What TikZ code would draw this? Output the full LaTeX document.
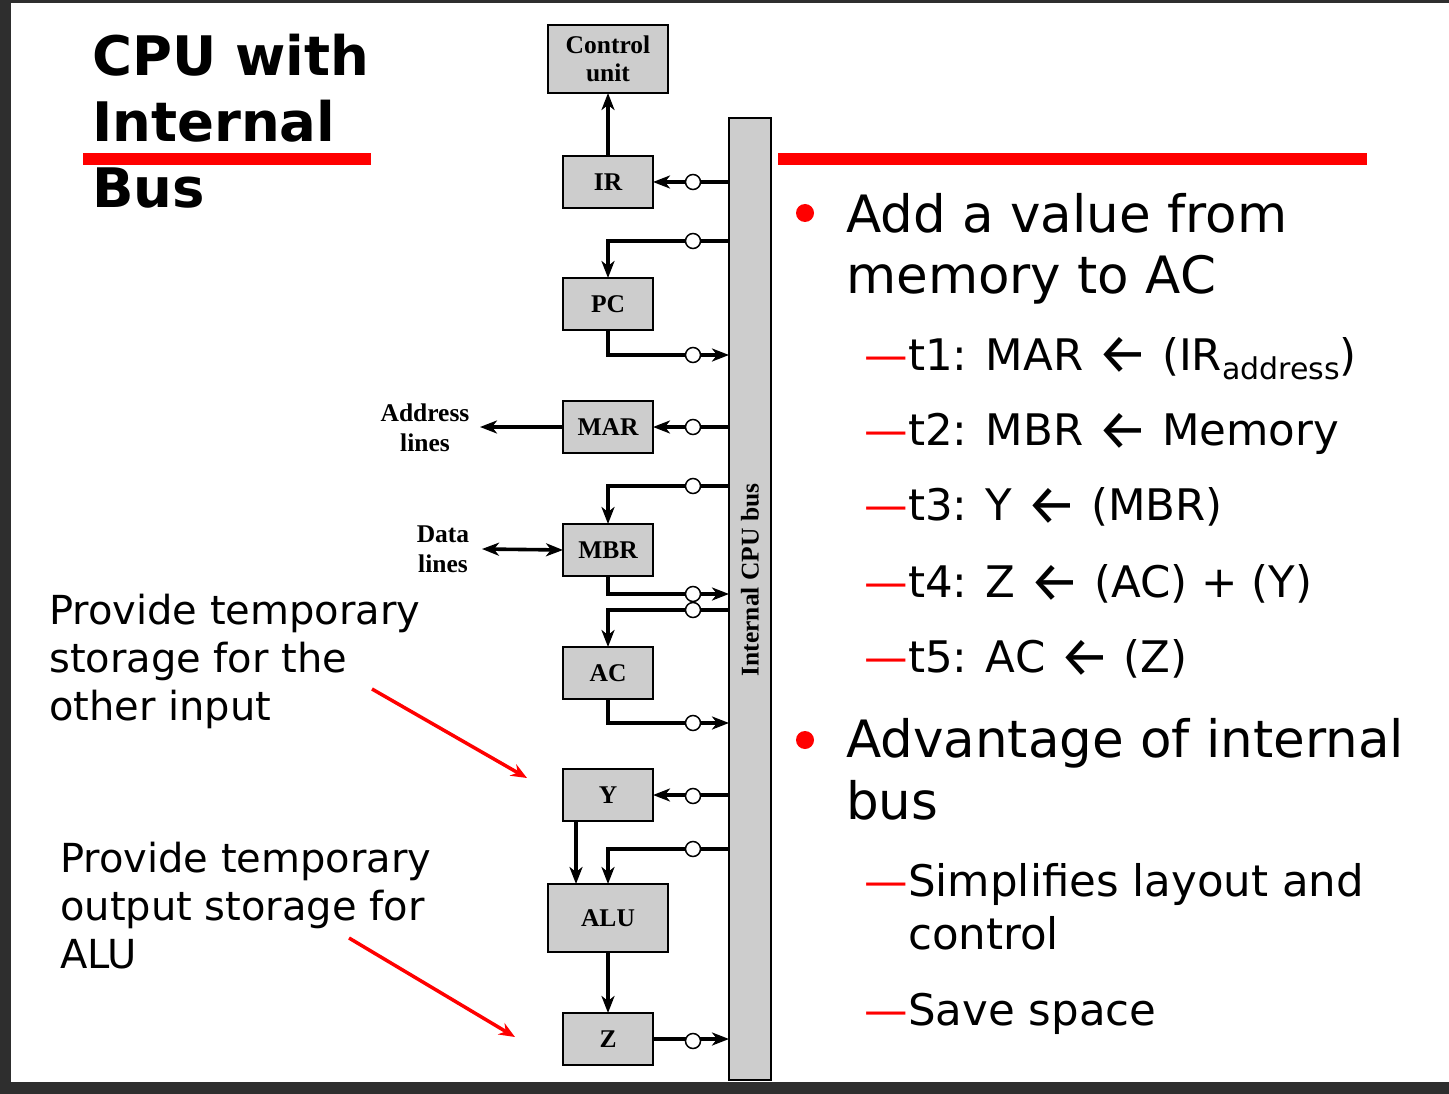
\documentclass[tikz,border=0pt]{standalone}
\usepackage{fontspec}
\setmainfont{DejaVu Sans}
\newfontfamily\diagfont{Liberation Serif}
\newfontfamily\arrowfont{Fira Sans}
\usetikzlibrary{arrows.meta}
\definecolor{boxgray}{RGB}{205,205,205}
\definecolor{framegray}{RGB}{46,46,46}
\newcommand{\larr}{\raisebox{-4pt}{\scalebox{1.3}{\arrowfont ←}}}
\begin{document}
\begin{tikzpicture}[x=1pt,y=-1pt,
  box/.style={draw=black, line width=1.8pt, fill=boxgray, inner sep=0pt, outer sep=0pt,
    font=\diagfont\bfseries\fontsize{25.5}{28}\selectfont, align=center},
  reg/.style={box, minimum width=90pt, minimum height=52pt},
  bigreg/.style={box, minimum width=120pt, minimum height=68pt},
  busbar/.style={draw=black, line width=1.4pt, fill=boxgray, inner sep=0pt, outer sep=0pt,
    minimum width=42pt, minimum height=962pt},
  conn/.style={line width=3.6pt},
  arr/.style={conn, -{Stealth[length=17pt,width=13pt,inset=5pt]}},
  darr/.style={conn, {Stealth[length=17pt,width=13pt,inset=5pt]}-{Stealth[length=17pt,width=13pt,inset=5pt]}},
  tap/.style={circle, draw=black, line width=1.5pt, fill=white, minimum size=15pt, inner sep=0pt},
  lbl/.style={font=\diagfont\bfseries\fontsize{25.5}{30}\selectfont, align=center, inner sep=0pt},
  note/.style={anchor=base west, align=left, inner sep=0pt, font=\fontsize{40}{48}\selectfont},
  mainpt/.style={anchor=base west, align=left, inner sep=0pt, font=\fontsize{51.5}{62}\selectfont},
  subpt/.style={anchor=base west, align=left, inner sep=0pt, font=\fontsize{43.5}{53}\selectfont},
  dot/.style={circle, fill=red, minimum size=18pt, inner sep=0pt},
  redarr/.style={draw=red, line width=3.5pt, -{Stealth[length=16pt,width=13pt]}}
]
\useasboundingbox (0,0) rectangle (1449,1094);
\fill[framegray] (0,0) rectangle (1449,1094);
\fill[white] (11,3) rectangle (1449,1082);

% title (anchor on the last line's baseline)
\node[anchor=base west, align=left, inner sep=0pt, font=\bfseries\fontsize{54.5}{66.5}\selectfont] (title) at (92,208) {CPU with\\Internal\\Bus};
\fill[red] (83,153) rectangle (371,165);
\fill[red] (778,153) rectangle (1367,165);

% bus
\node[busbar] (bus) at (750,599) {};
\node[rotate=90, font=\diagfont\bfseries\fontsize{25.5}{28}\selectfont, inner sep=0pt] (buslabel) at (750,580) {Internal CPU bus};

% registers
\node[bigreg] (cu) at (608,59) {Control\\unit};
\node[reg] (ir) at (608,182) {IR};
\node[reg] (pc) at (608,304) {PC};
\node[reg] (mar) at (608,427) {MAR};
\node[reg] (mbr) at (608,550) {MBR};
\node[reg] (ac) at (608,673) {AC};
\node[reg] (yr) at (608,795) {Y};
\node[bigreg] (alu) at (608,918) {ALU};
\node[reg] (zr) at (608,1039) {Z};

% external lines
\node[lbl] (addr) at (425,428) {Address\\lines};
\node[lbl] (data) at (443,549) {Data\\lines};
\coordinate (addrEnd) at (480,427);
\coordinate (dataEnd) at (482,549);

% bus taps
\coordinate (bIR) at (bus.west |- ir.east);
\coordinate (bPCin) at (729,241);
\coordinate (bPCout) at (729,355);
\coordinate (bMAR) at (bus.west |- mar.east);
\coordinate (bMBRin) at (729,486);
\coordinate (bMBRout) at (729,594);
\coordinate (bACin) at (729,610);
\coordinate (bACout) at (729,723);
\coordinate (bY) at (bus.west |- yr.east);
\coordinate (bALUin) at (729,849);
\coordinate (bZ) at (bus.west |- zr.east);

% connectors
\draw[arr] (ir.north) -- (cu.south);
\draw[arr] (bIR) -- (ir.east);
\draw[arr] (bPCin) -| (pc.north);
\draw[arr] (pc.south) |- (bPCout);
\draw[arr] (bMAR) -- (mar.east);
\draw[arr] (mar.west) -- (addrEnd);
\draw[darr] (dataEnd) -- (mbr.west);
\draw[arr] (bMBRin) -| (mbr.north);
\draw[arr] (mbr.south) |- (bMBRout);
\draw[arr] (bACin) -| (ac.north);
\draw[arr] (ac.south) |- (bACout);
\draw[arr] (bY) -- (yr.east);
\draw[arr] ([xshift=-32pt]yr.south) -- ([xshift=-32pt]alu.north);
\draw[arr] (bALUin) -| (alu.north);
\draw[arr] (alu.south) -- (zr.north);
\draw[arr] (zr.east) -- (bZ);

% tap circles
\node[tap] (cIR) at (693,182) {};
\node[tap] (cPCin) at (693,241) {};
\node[tap] (cPCout) at (693,355) {};
\node[tap] (cMAR) at (693,427) {};
\node[tap] (cMBRin) at (693,486) {};
\node[tap] (cMBRout) at (693,594) {};
\node[tap] (cACin) at (693,610) {};
\node[tap] (cACout) at (693,723) {};
\node[tap] (cY) at (693,796) {};
\node[tap] (cALUin) at (693,849) {};
\node[tap] (cZ) at (693,1041) {};

% annotations (anchored on the last line's baseline)
\node[note] (n1) at (49,720) {Provide temporary\\storage for the\\other input};
\node[note] (n2) at (60,968) {Provide temporary\\output storage for\\ALU};
\coordinate (n1s) at (372,689);
\coordinate (n1e) at (527,778);
\coordinate (n2s) at (349,938);
\coordinate (n2e) at (515,1037);
\draw[redarr] (n1s) -- (n1e);
\draw[redarr] (n2s) -- (n2e);

% right text
\node[dot] (b1) at (805,213) {};
\node[mainpt] (m1) at (846,294) {Add a value from\\memory to AC};
\node[subpt] (s1) at (908,370) {\llap{\textcolor{red}{—}}t1: MAR \larr{} (IR{\fontsize{30}{30}\selectfont\raisebox{-9pt}{address}})};
\node[subpt] (s2) at (908,445) {\llap{\textcolor{red}{—}}t2: MBR \larr{} Memory};
\node[subpt] (s3) at (908,520) {\llap{\textcolor{red}{—}}t3: Y \larr{} (MBR)};
\node[subpt] (s4) at (908,597) {\llap{\textcolor{red}{—}}t4: Z \larr{} (AC) + (Y)};
\node[subpt] (s5) at (908,672) {\llap{\textcolor{red}{—}}t5: AC \larr{} (Z)};
\node[dot] (b2) at (805,740) {};
\node[mainpt] (m2) at (846,819) {Advantage of internal\\bus};
\node[subpt] (s6) at (908,949) {\llap{\textcolor{red}{—}}Simplifies layout and\\control};
\node[subpt] (s7) at (908,1025) {\llap{\textcolor{red}{—}}Save space};
\end{tikzpicture}
\end{document}
